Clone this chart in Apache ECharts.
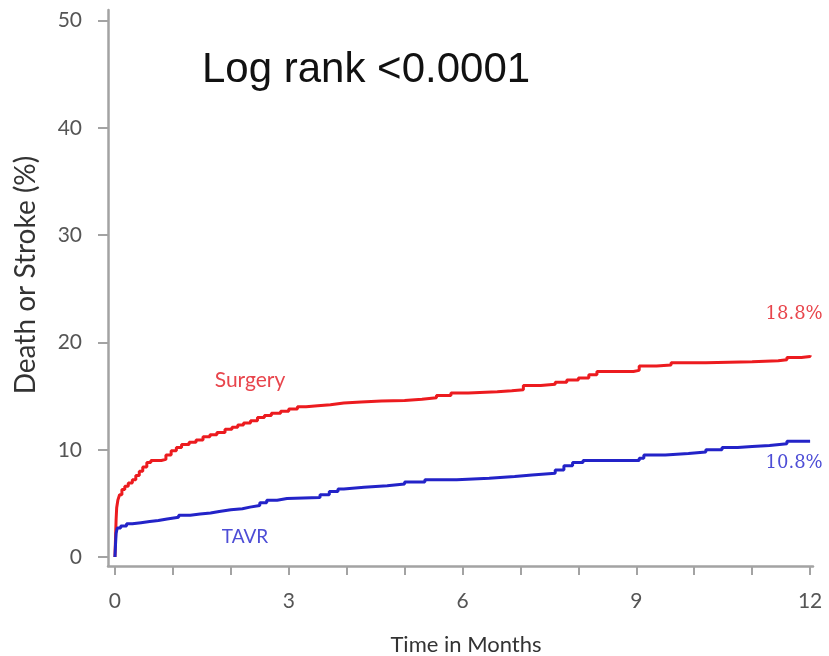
<!DOCTYPE html>
<html>
<head>
<meta charset="utf-8">
<script src="https://cdn.jsdelivr.net/npm/echarts@6/dist/echarts.min.js"></script>
<style>
  html, body { margin: 0; padding: 0; background: #fff; }
  #chart { width: 829px; height: 656px; }
</style>
</head>
<body>
<div id="chart"></div>
<script>
// Kaplan-Meier estimates of death or stroke, by treatment arm
const surgeryMonths = [0, 0.01, 0.02, 0.03, 0.05, 0.08, 0.12, 0.17, 0.23, 0.3, 0.36, 0.42, 0.48, 0.55, 0.62, 0.8, 0.88, 0.97, 1.06, 1.15, 1.28, 1.4, 1.52, 1.64, 1.76, 1.9, 2.02, 2.12, 2.22, 2.34, 2.46, 2.58, 2.7, 2.86, 3.0, 3.15, 3.3, 3.5, 3.72, 3.95, 4.25, 4.6, 5.0, 5.3, 5.55, 5.8, 6.1, 6.6, 6.85, 7.05, 7.35, 7.6, 7.8, 8.0, 8.18, 8.32, 8.95, 9.05, 9.35, 9.6, 10.2, 11.0, 11.45, 11.6, 11.85, 12.0];
const surgeryRisk = [0, 1.8, 3.5, 4.6, 5.3, 5.8, 6.3, 6.6, 6.9, 7.2, 7.6, 8.0, 8.4, 8.8, 9.0, 9.1, 9.5, 9.9, 10.2, 10.5, 10.7, 10.9, 11.2, 11.4, 11.6, 11.9, 12.1, 12.3, 12.5, 12.7, 13.0, 13.2, 13.4, 13.6, 13.8, 14.0, 14.1, 14.2, 14.35, 14.45, 14.55, 14.6, 14.7, 14.85, 15.05, 15.3, 15.4, 15.5, 15.6, 16.0, 16.1, 16.3, 16.5, 16.7, 17.0, 17.3, 17.4, 17.8, 17.9, 18.1, 18.2, 18.3, 18.4, 18.6, 18.7, 18.8];

const tavrMonths = [0, 0.01, 0.02, 0.04, 0.1, 0.2, 0.3, 0.45, 0.6, 0.75, 0.9, 1.1, 1.3, 1.47, 1.65, 1.8, 2.0, 2.2, 2.33, 2.5, 2.62, 2.8, 2.97, 3.54, 3.7, 3.85, 3.95, 4.3, 4.7, 5.0, 5.35, 5.9, 6.46, 6.9, 7.2, 7.6, 7.75, 7.9, 8.08, 9.05, 9.13, 9.5, 9.9, 10.2, 10.48, 10.75, 11.0, 11.3, 11.6, 12.0];
const tavrRisk = [0, 1.2, 2.2, 2.7, 2.9, 3.1, 3.2, 3.3, 3.4, 3.55, 3.7, 3.9, 4.0, 4.1, 4.25, 4.4, 4.5, 4.65, 4.8, 5.05, 5.3, 5.45, 5.55, 5.8, 6.1, 6.35, 6.5, 6.65, 6.8, 7.0, 7.2, 7.35, 7.5, 7.65, 7.8, 8.1, 8.5, 8.8, 9.0, 9.2, 9.5, 9.65, 9.8, 10.0, 10.2, 10.3, 10.4, 10.55, 10.8, 10.8];

const monthTicks = [0, 1, 2, 3, 4, 5, 6, 7, 8, 9, 10, 11, 12];
const monthLabels = [0, 3, 6, 9, 12];
const riskTicks = [0, 10, 20, 30, 40, 50];

const armNames = ['Surgery', 'TAVR'];
const pValueText = 'Log rank <0.0001';
const xTitle = 'Time in Months';
const yTitle = 'Death or Stroke (%)';

const pairs = (xs, ys) => xs.map((x, i) => [x, ys[i]]);

const RED = '#ec1b1f';
const BLUE = '#2323c8';
const AXIS = '#a3a3a3';
const TICKTEXT = '#555';
const sansTick = 'Lato, "Open Sans", sans-serif';

// percentage tag at the last point of a curve
function endMark(xs, ys, color, offset) {
  const n = xs.length - 1;
  return {
    symbol: 'circle',
    symbolSize: 1,
    itemStyle: { color: 'rgba(0,0,0,0)' },
    data: [{ coord: [xs[n], ys[n]], value: ys[n] }],
    label: {
      show: true,
      position: 'inside',
      offset: offset,
      formatter: p => p.value.toFixed(1) + '%',
      color: color,
      fontFamily: '"DejaVu Serif", "Liberation Serif", serif',
      fontSize: 18
    }
  };
}

const chart = echarts.init(document.getElementById('chart'), null, { renderer: 'canvas' });

chart.setOption({
  animation: false,
  backgroundColor: '#ffffff',
  grid: { left: 108, right: 16, top: 10, bottom: 90, containLabel: false },
  xAxis: {
    type: 'value',
    min: -0.12,
    max: 12.05,
    splitLine: { show: false },
    axisLine: { show: true, onZero: false, lineStyle: { color: AXIS, width: 2.5 } },
    axisTick: { show: true, customValues: monthTicks, length: 9, lineStyle: { color: AXIS, width: 2 } },
    axisLabel: { show: true, customValues: monthLabels, margin: 25, color: TICKTEXT, fontSize: 21, fontFamily: sansTick }
  },
  yAxis: {
    type: 'value',
    min: -0.84,
    max: 51,
    splitLine: { show: false },
    axisLine: { show: true, onZero: false, lineStyle: { color: AXIS, width: 2.5 } },
    axisTick: { show: true, customValues: riskTicks, length: 10, lineStyle: { color: AXIS, width: 2 } },
    axisLabel: { show: true, customValues: riskTicks, margin: 26, color: TICKTEXT, fontSize: 21, fontFamily: sansTick }
  },
  series: [
    {
      name: armNames[0],
      type: 'line',
      step: 'end',
      data: pairs(surgeryMonths, surgeryRisk),
      showSymbol: false,
      lineStyle: { color: RED, width: 3 },
      itemStyle: { color: RED },
      markPoint: endMark(surgeryMonths, surgeryRisk, '#e8454c', [-16, -41])
    },
    {
      name: armNames[1],
      type: 'line',
      step: 'end',
      data: pairs(tavrMonths, tavrRisk),
      showSymbol: false,
      lineStyle: { color: BLUE, width: 3 },
      itemStyle: { color: BLUE },
      markPoint: endMark(tavrMonths, tavrRisk, '#4d4dd6', [-16, 22])
    }
  ],
  graphic: [
    {
      type: 'text', x: 202, y: 70,
      style: { text: pValueText, fill: '#111', font: '42px "Liberation Sans", Arial, sans-serif', align: 'left', verticalAlign: 'middle' }
    },
    {
      type: 'text', x: 250, y: 380,
      style: { text: armNames[0], fill: '#e8454c', font: '21px Lato, "Open Sans", sans-serif', align: 'center', verticalAlign: 'middle' }
    },
    {
      type: 'text', x: 245, y: 537,
      style: { text: armNames[1], fill: '#4d4dd6', font: '19px Lato, "Open Sans", sans-serif', align: 'center', verticalAlign: 'middle' }
    },
    {
      type: 'text', x: 466, y: 645,
      style: { text: xTitle, fill: '#333', font: '22px Lato, "Open Sans", sans-serif', align: 'center', verticalAlign: 'middle' }
    },
    {
      type: 'text', x: 26, y: 275, rotation: Math.PI / 2,
      style: { text: yTitle, fill: '#333', font: '28px Lato, "Open Sans", sans-serif', align: 'center', verticalAlign: 'middle' }
    }
  ]
});
</script>
</body>
</html>
